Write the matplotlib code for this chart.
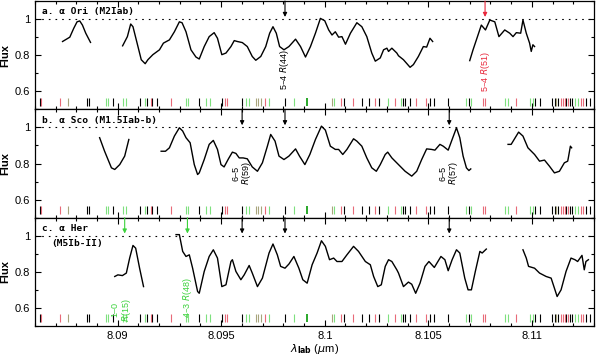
import matplotlib.pyplot as plt
from matplotlib.ticker import MultipleLocator, FormatStrFormatter

plt.rcParams['font.family'] = ['Liberation Sans', 'DejaVu Sans']
plt.rcParams['mathtext.fontset'] = 'dejavusans'

# ---- spectra (wavelength in micron, normalised flux) ----
a1_wl = [8.08734, 8.08753, 8.08769, 8.08788, 8.08804, 8.08817, 8.08830, 8.08846, 8.08869]
a1_fx = [0.876, 0.889, 0.900, 0.949, 0.985, 0.990, 0.967, 0.922, 0.871]

a2_wl = [8.09024, 8.09047, 8.09063, 8.09074, 8.09090, 8.09114, 8.09133, 8.09146, 8.09170, 8.09202,
         8.09221, 8.09250, 8.09274, 8.09298, 8.09311, 8.09330, 8.09354, 8.09378, 8.09394, 8.09418,
         8.09442, 8.09466, 8.09482, 8.09503, 8.09523, 8.09547, 8.09563, 8.09578, 8.09602, 8.09626,
         8.09650, 8.09667, 8.09691, 8.09715, 8.09734, 8.09750, 8.09766, 8.09782, 8.09803, 8.09827,
         8.09859, 8.09883, 8.09907, 8.09931, 8.09955, 8.09979, 8.10000, 8.10019, 8.10035, 8.10051,
         8.10067, 8.10083, 8.10100, 8.10124, 8.10155, 8.10179, 8.10203, 8.10227, 8.10244, 8.10268,
         8.10284, 8.10300, 8.10308, 8.10324, 8.10348, 8.10356, 8.10380, 8.10412, 8.10428, 8.10452,
         8.10476, 8.10492, 8.10508, 8.10521]
a2_fx = [0.852, 0.903, 0.973, 0.958, 0.885, 0.775, 0.753, 0.775, 0.803, 0.830,
         0.867, 0.885, 0.930, 0.985, 0.980, 0.930, 0.830, 0.790, 0.779, 0.848,
         0.903, 0.925, 0.894, 0.803, 0.812, 0.848, 0.881, 0.876, 0.870, 0.848,
         0.793, 0.772, 0.793, 0.848, 0.922, 0.958, 0.922, 0.848, 0.830, 0.848,
         0.889, 0.848, 0.790, 0.848, 0.922, 1.004, 0.991, 0.940, 0.912, 0.930,
         0.900, 0.903, 0.861, 0.922, 0.980, 0.958, 0.903, 0.812, 0.767, 0.785,
         0.830, 0.839, 0.821, 0.839, 0.812, 0.797, 0.775, 0.733, 0.748, 0.793,
         0.848, 0.845, 0.894, 0.876]

a3_wl = [8.10700, 8.10716, 8.10740, 8.10756, 8.10776, 8.10797, 8.10821, 8.10841, 8.10869, 8.10893,
         8.10909, 8.10925, 8.10946, 8.10957, 8.10973, 8.10989, 8.10997, 8.11005, 8.11013]
a3_fx = [0.770, 0.830, 0.912, 0.967, 0.940, 0.995, 0.985, 0.903, 0.940, 0.922,
         0.903, 0.925, 0.922, 0.995, 0.922, 0.867, 0.821, 0.858, 0.848]

b1_wl = [8.08913, 8.08937, 8.08970, 8.08986, 8.09010, 8.09034, 8.09054]
b1_fx = [0.943, 0.868, 0.776, 0.767, 0.794, 0.841, 0.933]

b2_wl = [8.09210, 8.09231, 8.09250, 8.09274, 8.09298, 8.09314, 8.09330, 8.09350, 8.09370, 8.09386,
         8.09394, 8.09418, 8.09442, 8.09462, 8.09482, 8.09499, 8.09514, 8.09535, 8.09554, 8.09571,
         8.09587, 8.09606, 8.09626, 8.09650, 8.09675, 8.09699, 8.09723, 8.09739, 8.09760, 8.09779,
         8.09803, 8.09827, 8.09859, 8.09878, 8.09904, 8.09928, 8.09955, 8.09984, 8.10003, 8.10027,
         8.10051, 8.10067, 8.10087, 8.10107, 8.10139, 8.10155, 8.10179, 8.10203, 8.10227, 8.10249,
         8.10268, 8.10292, 8.10304, 8.10324, 8.10356, 8.10388, 8.10420, 8.10444, 8.10468, 8.10492,
         8.10516, 8.10532, 8.10556, 8.10572, 8.10596, 8.10615, 8.10636, 8.10652, 8.10668, 8.10684,
         8.10696, 8.10705]
b2_fx = [0.868, 0.868, 0.887, 0.952, 0.998, 0.980, 0.943, 0.915, 0.794, 0.739,
         0.748, 0.822, 0.906, 0.928, 0.878, 0.794, 0.781, 0.826, 0.863, 0.856,
         0.831, 0.831, 0.826, 0.781, 0.757, 0.804, 0.896, 0.961, 0.924, 0.841,
         0.822, 0.841, 0.881, 0.841, 0.794, 0.850, 0.933, 1.007, 0.985, 0.896,
         0.878, 0.878, 0.850, 0.878, 0.937, 0.924, 0.896, 0.831, 0.776, 0.757,
         0.794, 0.850, 0.863, 0.831, 0.794, 0.757, 0.730, 0.757, 0.822, 0.881,
         0.878, 0.874, 0.906, 0.896, 0.874, 0.933, 0.998, 0.943, 0.841, 0.776,
         0.761, 0.770]

b3_wl = [8.10885, 8.10900, 8.10936, 8.10957, 8.10981, 8.11013, 8.11037, 8.11061, 8.11085, 8.11109,
         8.11133, 8.11157, 8.11173, 8.11176, 8.11186, 8.11192]
b3_fx = [0.906, 0.906, 0.974, 0.952, 0.887, 0.850, 0.813, 0.819, 0.785, 0.748,
         0.757, 0.804, 0.813, 0.831, 0.896, 0.887]

c1_wl = [8.08986, 8.09001, 8.09023, 8.09042, 8.09058, 8.09074, 8.09087, 8.09106, 8.09125]
c1_fx = [0.774, 0.783, 0.779, 0.793, 0.876, 0.946, 0.931, 0.820, 0.718]

c2_wl = [8.09282, 8.09298, 8.09314, 8.09330, 8.09346, 8.09362, 8.09386, 8.09394, 8.09418, 8.09442,
         8.09462, 8.09482, 8.09503, 8.09523, 8.09547, 8.09554, 8.09571, 8.09595, 8.09611, 8.09635,
         8.09650, 8.09675, 8.09699, 8.09731, 8.09750, 8.09771, 8.09787, 8.09808, 8.09827, 8.09851,
         8.09875, 8.09894, 8.09915, 8.09939, 8.09963, 8.09984, 8.10003, 8.10023, 8.10043, 8.10059,
         8.10083, 8.10107, 8.10139, 8.10163, 8.10196, 8.10220, 8.10236, 8.10256, 8.10273, 8.10292,
         8.10308, 8.10324, 8.10348, 8.10356, 8.10380, 8.10404, 8.10420, 8.10439, 8.10460, 8.10484,
         8.10503, 8.10529, 8.10561, 8.10580, 8.10596, 8.10615, 8.10636, 8.10652, 8.10676, 8.10692,
         8.10708, 8.10727, 8.10749, 8.10760, 8.10780]
c2_fx = [1.006, 1.006, 0.913, 0.885, 0.894, 0.820, 0.691, 0.681, 0.802, 0.885,
         0.922, 0.876, 0.718, 0.728, 0.857, 0.867, 0.802, 0.756, 0.783, 0.835,
         0.793, 0.718, 0.765, 0.904, 0.954, 0.894, 0.830, 0.820, 0.843, 0.885,
         0.820, 0.756, 0.737, 0.839, 0.904, 0.972, 0.941, 0.867, 0.876, 0.857,
         0.857, 0.894, 0.941, 0.913, 0.857, 0.839, 0.774, 0.718, 0.728, 0.830,
         0.867, 0.857, 0.811, 0.793, 0.718, 0.743, 0.731, 0.681, 0.737, 0.830,
         0.857, 0.824, 0.885, 0.867, 0.806, 0.867, 0.922, 0.904, 0.765, 0.700,
         0.700, 0.802, 0.913, 0.904, 0.926]

c3_wl = [8.10957, 8.10973, 8.10984, 8.11013, 8.11037, 8.11069, 8.11093, 8.11109, 8.11122, 8.11141,
         8.11165, 8.11189, 8.11208, 8.11221, 8.11242, 8.11253, 8.11261, 8.11273]
c3_fx = [0.922, 0.876, 0.830, 0.820, 0.793, 0.774, 0.765, 0.709, 0.663, 0.700,
         0.802, 0.876, 0.867, 0.857, 0.891, 0.811, 0.857, 0.867]

# ---- line list markers ----
lines_black = [8.08625, 8.08851, 8.08861, 8.08976, 8.09106, 8.09144, 8.09168, 8.09192, 8.09394, 8.09505,
               8.09601, 8.09808, 8.10091, 8.10178, 8.10212, 8.10260, 8.10380, 8.10389, 8.10413, 8.10510,
               8.10529, 8.10596, 8.10697, 8.11014, 8.11038, 8.11096, 8.11111, 8.11125, 8.11163, 8.11183,
               8.11192, 8.11260, 8.11279]
lines_red = [8.08628, 8.08721, 8.09159, 8.09260, 8.09519, 8.09529, 8.09712, 8.10077, 8.10135, 8.10245,
             8.10337, 8.10442, 8.10490, 8.10764, 8.10774, 8.10923, 8.11139, 8.11149, 8.11159, 8.11173,
             8.11236, 8.11245]
lines_green = [8.08942, 8.08952, 8.09024, 8.09038, 8.09130, 8.09332, 8.09341, 8.09428, 8.09447, 8.09620,
               8.09635, 8.09731, 8.09851, 8.10043, 8.10303, 8.10370, 8.10683, 8.10707, 8.10870, 8.10885,
               8.10990, 8.11005, 8.11207, 8.11221]
lines_dkgreen = [8.09913]
lines_olive = [8.08760, 8.09668, 8.09678, 8.09692, 8.10034, 8.11115]

# ---- identifications ----
arrows_a = [(8.09808, 'black'), (8.10774, '#e8283c')]
arrows_b = [(8.09601, 'black'), (8.09808, 'black'), (8.10601, 'black')]
arrows_c = [(8.09034, '#3cd23c'), (8.09337, '#3cd23c'), (8.09601, 'black'), (8.09808, 'black'), (8.10601, 'black')]

ids_a = [(8.09808, 0.72, '5–4 $R$(44)', 'black'), (8.10774, 0.71, '5–4 $R$(51)', '#e8283c')]
ids_b = [(8.09601, 0.745, '6–5\n$R$(59)', 'black'), (8.10601, 0.745, '6–5\n$R$(57)', 'black')]
ids_c = [(8.09020, 0.59, '1–0\n$R$(15)', '#3cd23c'), (8.09337, 0.655, '4–3 $R$(48)', '#3cd23c')]

labels = ['a. α Ori (M2Iab)', 'b. α Sco (M1.5Iab-b)', 'c. α Her']

panels = [
    ([(a1_wl, a1_fx), (a2_wl, a2_fx), (a3_wl, a3_fx)], arrows_a, ids_a),
    ([(b1_wl, b1_fx), (b2_wl, b2_fx), (b3_wl, b3_fx)], arrows_b, ids_b),
    ([(c1_wl, c1_fx), (c2_wl, c2_fx), (c3_wl, c3_fx)], arrows_c, ids_c),
]

fig, axes = plt.subplots(3, 1, figsize=(6, 3.57), dpi=100, sharex=True)
fig.subplots_adjust(left=0.058, right=0.99, top=0.997, bottom=0.087, hspace=0)

for i, ax in enumerate(axes):
    segs, arrows, ids = panels[i]
    for wl, fx in segs:
        ax.plot(wl, fx, color='black', lw=1.0)

    ax.axhline(1.0, color='black', lw=0.8, ls=(0, (1.5, 4.5)))

    ax.vlines(lines_black, 0.52, 0.565, colors='black', lw=0.8)
    ax.vlines(lines_red, 0.52, 0.565, colors='#e86a78', lw=0.8)
    ax.vlines(lines_green, 0.52, 0.565, colors='#7ee07e', lw=0.8)
    ax.vlines(lines_dkgreen, 0.52, 0.565, colors='#2aa82a', lw=1.4)
    ax.vlines(lines_olive, 0.52, 0.565, colors='#a8a47c', lw=0.8)

    for x, c in arrows:
        ax.annotate('', xy=(x, 1.012), xytext=(x, 1.1),
                    arrowprops=dict(arrowstyle='-|>', color=c, lw=0.8, mutation_scale=6,
                                    shrinkA=0, shrinkB=0))
    for x, y, t, c in ids:
        ax.text(x, y, t, rotation=90, ha='center', va='center', color=c,
                fontsize=6.5, linespacing=1.0, multialignment='center')

    ax.text(0.012, 0.9, labels[i], transform=ax.transAxes, fontsize=6.8,
            fontweight='bold', family='DejaVu Sans Mono', va='center')

    ax.set_xlim(8.086, 8.113)
    ax.set_ylim(0.5, 1.1)
    ax.yaxis.set_major_locator(MultipleLocator(0.2))
    ax.yaxis.set_minor_locator(MultipleLocator(0.1))
    ax.yaxis.set_major_formatter(FormatStrFormatter('%g'))
    ax.xaxis.set_major_locator(MultipleLocator(0.005))
    ax.xaxis.set_minor_locator(MultipleLocator(0.001))
    ax.xaxis.set_major_formatter(FormatStrFormatter('%g'))
    ax.tick_params(which='both', direction='in', top=True, right=True, labelsize=8, width=0.8)
    ax.tick_params(which='major', length=4)
    ax.tick_params(which='minor', length=2)
    for s in ax.spines.values():
        s.set_linewidth(0.9)
    ax.set_ylabel('Flux', fontsize=8, fontweight='bold', labelpad=3)

axes[2].text(0.03, 0.76, '(M5Ib-II)', transform=axes[2].transAxes, fontsize=6.8,
             fontweight='bold', family='DejaVu Sans Mono', va='center')
axes[2].set_xlabel(r'$\lambda_{\mathbf{lab}}$ ($\mu$m)', fontsize=8, labelpad=1)

fig.savefig('out.png', dpi=100)
